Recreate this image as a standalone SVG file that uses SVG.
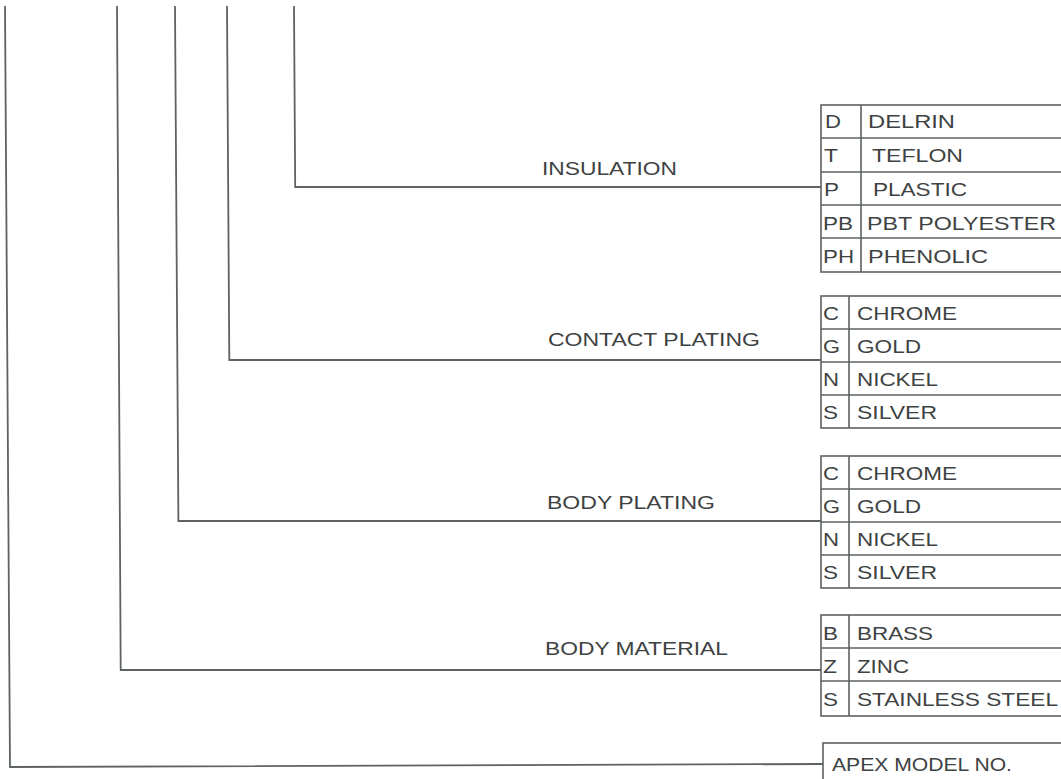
<svg xmlns="http://www.w3.org/2000/svg" width="1061" height="779" viewBox="0 0 1061 779">
<style>
.ln{fill:none;stroke:#5d6262;stroke-width:1.8;stroke-linejoin:miter}
.tb{fill:none;stroke:#5d6262;stroke-width:1.6}
.t{font-family:"Liberation Sans",Arial,sans-serif;font-size:18px;fill:#3e4242}
</style>
<rect width="1061" height="779" fill="#ffffff"/>
<g id="connectors">
<polyline class="ln" points="5,6 10,767 823,764"/>
<polyline class="ln" points="117,6 120.7,670 821,670"/>
<polyline class="ln" points="175,6 178.4,521 821,521"/>
<polyline class="ln" points="227,6 229.3,360 821,360"/>
<polyline class="ln" points="294,6 295.2,187 821,187"/>
</g>
<g id="labels">
<text class="t" x="542" y="175" textLength="135" lengthAdjust="spacingAndGlyphs">INSULATION</text>
<text class="t" x="548" y="346" textLength="212" lengthAdjust="spacingAndGlyphs">CONTACT PLATING</text>
<text class="t" x="547" y="509" textLength="168" lengthAdjust="spacingAndGlyphs">BODY PLATING</text>
<text class="t" x="545" y="655" textLength="183" lengthAdjust="spacingAndGlyphs">BODY MATERIAL</text>
</g>
<g id="insulation-table">
<rect class="tb" x="821" y="105" width="260" height="167"/>
<path class="tb" d="M821,138H1070M821,172H1070M821,205H1070M821,238H1070M861,105V272"/>
<text class="t" x="825" y="128" textLength="16" lengthAdjust="spacingAndGlyphs">D</text>
<text class="t" x="868" y="128" textLength="87" lengthAdjust="spacingAndGlyphs">DELRIN</text>
<text class="t" x="824" y="162" textLength="14" lengthAdjust="spacingAndGlyphs">T</text>
<text class="t" x="872" y="162" textLength="91" lengthAdjust="spacingAndGlyphs">TEFLON</text>
<text class="t" x="824" y="196" textLength="15" lengthAdjust="spacingAndGlyphs">P</text>
<text class="t" x="873" y="196" textLength="94" lengthAdjust="spacingAndGlyphs">PLASTIC</text>
<text class="t" x="823" y="230" textLength="30" lengthAdjust="spacingAndGlyphs">PB</text>
<text class="t" x="867" y="230" textLength="189" lengthAdjust="spacingAndGlyphs">PBT POLYESTER</text>
<text class="t" x="823" y="263" textLength="31" lengthAdjust="spacingAndGlyphs">PH</text>
<text class="t" x="868" y="263" textLength="120" lengthAdjust="spacingAndGlyphs">PHENOLIC</text>
</g>
<g id="contact-plating-table">
<rect class="tb" x="821" y="296" width="260" height="132"/>
<path class="tb" d="M821,329H1070M821,362H1070M821,395H1070M849,296V428"/>
<text class="t" x="823" y="320" textLength="16" lengthAdjust="spacingAndGlyphs">C</text>
<text class="t" x="857" y="320" textLength="100" lengthAdjust="spacingAndGlyphs">CHROME</text>
<text class="t" x="823" y="353" textLength="17" lengthAdjust="spacingAndGlyphs">G</text>
<text class="t" x="857" y="353" textLength="64" lengthAdjust="spacingAndGlyphs">GOLD</text>
<text class="t" x="823" y="386" textLength="16" lengthAdjust="spacingAndGlyphs">N</text>
<text class="t" x="857" y="386" textLength="81" lengthAdjust="spacingAndGlyphs">NICKEL</text>
<text class="t" x="823" y="419" textLength="15" lengthAdjust="spacingAndGlyphs">S</text>
<text class="t" x="857" y="419" textLength="80" lengthAdjust="spacingAndGlyphs">SILVER</text>
</g>
<g id="body-plating-table">
<rect class="tb" x="821" y="456" width="260" height="132"/>
<path class="tb" d="M821,489H1070M821,522H1070M821,555H1070M849,456V588"/>
<text class="t" x="823" y="480" textLength="16" lengthAdjust="spacingAndGlyphs">C</text>
<text class="t" x="857" y="480" textLength="100" lengthAdjust="spacingAndGlyphs">CHROME</text>
<text class="t" x="823" y="513" textLength="17" lengthAdjust="spacingAndGlyphs">G</text>
<text class="t" x="857" y="513" textLength="64" lengthAdjust="spacingAndGlyphs">GOLD</text>
<text class="t" x="823" y="546" textLength="16" lengthAdjust="spacingAndGlyphs">N</text>
<text class="t" x="857" y="546" textLength="81" lengthAdjust="spacingAndGlyphs">NICKEL</text>
<text class="t" x="823" y="579" textLength="15" lengthAdjust="spacingAndGlyphs">S</text>
<text class="t" x="857" y="579" textLength="80" lengthAdjust="spacingAndGlyphs">SILVER</text>
</g>
<g id="body-material-table">
<rect class="tb" x="821" y="615" width="260" height="101"/>
<path class="tb" d="M821,648H1070M821,681H1070M849,615V716"/>
<text class="t" x="823" y="640" textLength="15" lengthAdjust="spacingAndGlyphs">B</text>
<text class="t" x="857" y="640" textLength="76" lengthAdjust="spacingAndGlyphs">BRASS</text>
<text class="t" x="823" y="673" textLength="14" lengthAdjust="spacingAndGlyphs">Z</text>
<text class="t" x="857" y="673" textLength="52" lengthAdjust="spacingAndGlyphs">ZINC</text>
<text class="t" x="823" y="706" textLength="15" lengthAdjust="spacingAndGlyphs">S</text>
<text class="t" x="857" y="706" textLength="201" lengthAdjust="spacingAndGlyphs">STAINLESS STEEL</text>
</g>
<g id="apex-model">
<rect class="tb" x="823" y="743" width="260" height="60"/>
<text class="t" x="832" y="771" textLength="180" lengthAdjust="spacingAndGlyphs">APEX MODEL NO.</text>
</g>
</svg>
